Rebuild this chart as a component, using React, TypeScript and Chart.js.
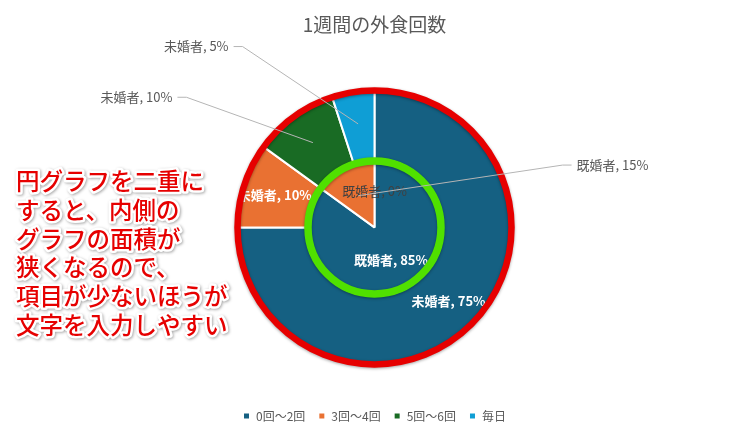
import React, { useEffect, useRef } from 'react';
import { Chart, registerables } from 'chart.js';

Chart.register(...registerables);

const chartTitle = '1週間の外食回数';
const categories = ['0回～2回', '3回～4回', '5回～6回', '毎日'];
const seriesNames = ['未婚者', '既婚者'];
const unmarried = [75, 10, 10, 5];
const married = [85, 15, 0, 0];
const sliceColors = ['#156082', '#E97132', '#196B24', '#0F9ED5'];
const noteLines = [
  '円グラフを二重に',
  'すると、内側の',
  'グラフの面積が',
  '狭くなるので、',
  '項目が少ないほうが',
  '文字を入力しやすい',
];

// label placement per dataset / slice: 'in' (white, on slice), 'dark' (gray, on slice), 'out' (callout), 'none'
const labelModes = [
  ['in', 'in', 'out', 'out'],
  ['in', 'out', 'dark', 'none'],
];
// callout positions, relative to pie centre in units of the outer radius
const calloutPos: Record<string, [number, number, 'left' | 'right']> = {
  '0-2': [-1.475, -0.95, 'right'],
  '0-3': [-1.065, -1.32, 'right'],
  '1-1': [1.475, -0.455, 'left'],
};

const FONT = '"Noto Sans CJK JP", "Noto Sans", sans-serif';

const labelPlugin = {
  id: 'customLabels',
  afterDatasetsDraw(chart: any) {
    const ctx = chart.ctx as CanvasRenderingContext2D;
    const metas = [0, 1].map((i) => chart.getDatasetMeta(i));
    const a0 = metas[0].data[0];
    const R = a0.outerRadius;
    const cx = a0.x;
    const cy = a0.y;
    const pt = (arc: any, f: number) => {
      const mid = (arc.startAngle + arc.endAngle) / 2;
      const r = arc.innerRadius + f * (arc.outerRadius - arc.innerRadius);
      return [arc.x + Math.cos(mid) * r, arc.y + Math.sin(mid) * r];
    };
    const textOf = (di: number, i: number) =>
      `${seriesNames[di]}, ${chart.data.datasets[di].data[i]}%`;

    ctx.save();
    ctx.textAlign = 'center';
    ctx.textBaseline = 'middle';
    metas.forEach((meta: any, di: number) =>
      meta.data.forEach((arc: any, i: number) => {
        const mode = labelModes[di][i];
        if (mode === 'in') {
          ctx.font = `bold 13px ${FONT}`;
          ctx.fillStyle = '#ffffff';
          const [x, y] = pt(arc, 0.53);
          ctx.fillText(textOf(di, i), x, y);
        } else if (mode === 'dark') {
          ctx.font = `13px ${FONT}`;
          ctx.fillStyle = '#404040';
          const [x, y] = pt(arc, 0.53);
          ctx.fillText(textOf(di, i), x, y);
        }
      })
    );
    ctx.restore();

    // rings
    ctx.save();
    ctx.shadowColor = 'rgba(0,0,0,0.35)';
    ctx.shadowBlur = 3;
    ctx.shadowOffsetY = 1;
    ctx.strokeStyle = '#E60000';
    ctx.lineWidth = 6.5;
    ctx.beginPath();
    ctx.arc(cx, cy, R, 0, Math.PI * 2);
    ctx.stroke();
    ctx.strokeStyle = '#50E000';
    ctx.lineWidth = 7.5;
    ctx.beginPath();
    ctx.arc(cx, cy, metas[1].data[0].outerRadius - 2, 0, Math.PI * 2);
    ctx.stroke();
    ctx.restore();

    // callouts
    ctx.save();
    ctx.textBaseline = 'middle';
    ctx.font = `13px ${FONT}`;
    metas.forEach((meta: any, di: number) =>
      meta.data.forEach((arc: any, i: number) => {
        if (labelModes[di][i] !== 'out') return;
        const pos = calloutPos[`${di}-${i}`];
        if (!pos) return;
        const tx = cx + pos[0] * R;
        const ty = cy + pos[1] * R;
        const [ax, ay] = pt(arc, di === 0 ? 0.53 : 0.52);
        const dir = pos[2] === 'right' ? 1 : -1;
        ctx.strokeStyle = '#B5B5B5';
        ctx.lineWidth = 1;
        ctx.beginPath();
        ctx.moveTo(tx + dir * 5, ty);
        ctx.lineTo(tx + dir * 14, ty);
        ctx.lineTo(ax, ay);
        ctx.stroke();
        ctx.fillStyle = '#595959';
        ctx.textAlign = pos[2];
        ctx.fillText(textOf(di, i), tx, ty);
      })
    );
    ctx.restore();
  },
  afterDraw(chart: any) {
    const ctx = chart.ctx as CanvasRenderingContext2D;
    ctx.save();
    ctx.font = `500 23.5px ${FONT}`;
    ctx.textAlign = 'left';
    ctx.textBaseline = 'middle';
    ctx.lineJoin = 'round';
    noteLines.forEach((line, k) => {
      const x = 16;
      const y = 181 + k * 28.8;
      ctx.save();
      ctx.shadowColor = 'rgba(0,0,0,0.35)';
      ctx.shadowBlur = 3;
      ctx.shadowOffsetX = 1;
      ctx.shadowOffsetY = 1;
      ctx.strokeStyle = '#ffffff';
      ctx.lineWidth = 5;
      ctx.strokeText(line, x, y);
      ctx.restore();
      ctx.fillStyle = '#E60000';
      ctx.fillText(line, x, y);
    });
    ctx.restore();
  },
};

export default function App() {
  const ref = useRef<HTMLCanvasElement>(null);
  useEffect(() => {
    document.body.style.margin = '0';
    const chart = new Chart(ref.current!, {
      type: 'pie',
      data: {
        labels: categories,
        datasets: [
          { label: seriesNames[0], data: unmarried, backgroundColor: sliceColors, borderColor: '#ffffff', borderWidth: 2 },
          { label: seriesNames[1], data: married, backgroundColor: sliceColors, borderColor: '#ffffff', borderWidth: 2 },
        ],
      },
      options: {
        responsive: false,
        animation: false,
        events: [],
        radius: 137,
        layout: { padding: { top: 7, bottom: 9, left: 9, right: 0 } },
        plugins: {
          title: {
            display: true,
            text: chartTitle,
            color: '#595959',
            font: { family: FONT, size: 19, weight: 'normal' },
            padding: { top: 6, bottom: 22 },
          },
          legend: {
            position: 'bottom',
            labels: {
              boxWidth: 7,
              boxHeight: 7,
              color: '#595959',
              padding: 13,
              font: { family: FONT, size: 12 },
            },
          },
          tooltip: { enabled: false },
        },
      } as any,
      plugins: [labelPlugin],
    });
    return () => chart.destroy();
  }, []);
  return (
    <div style={{ width: 740, height: 441, background: '#fff' }}>
      <canvas ref={ref} width={740} height={441} />
    </div>
  );
}
